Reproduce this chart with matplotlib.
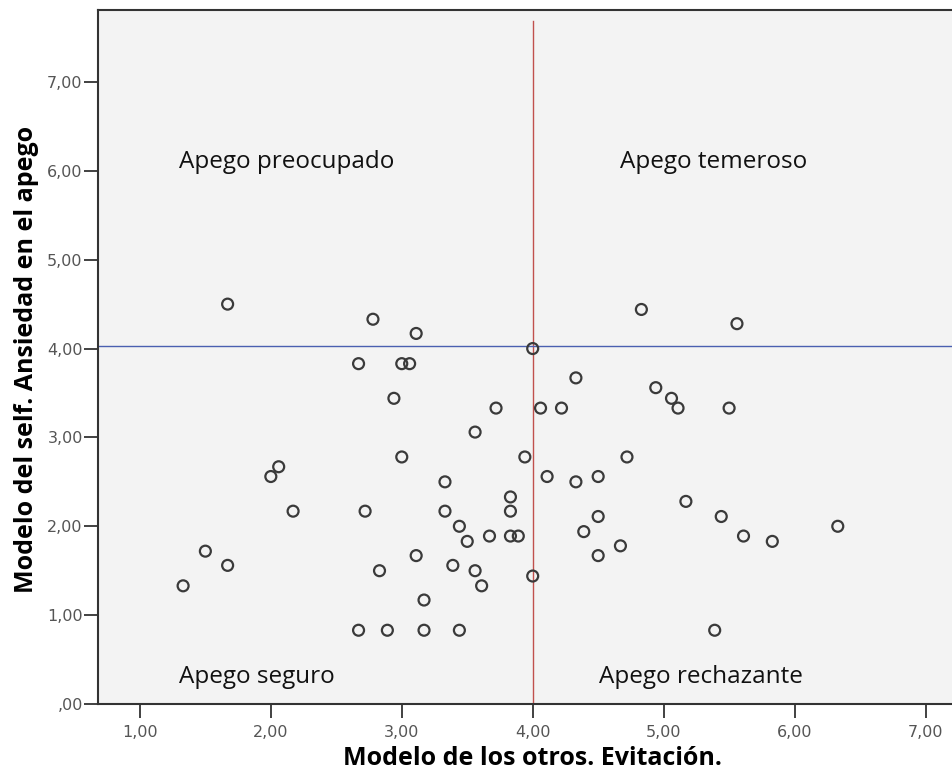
import matplotlib
matplotlib.use("Agg")
from matplotlib import pyplot as plt

# puntos (evitacion, ansiedad)
evitacion = [1.67, 2.78, 3.11, 2.67, 3.00, 3.06, 4.00, 4.83, 5.56, 4.33,
             2.94, 4.94, 5.06, 5.11, 5.50, 3.72, 4.06, 4.22, 3.56, 3.00,
             3.94, 4.72, 2.06, 2.00, 4.11, 4.33, 4.50, 3.33, 2.17, 2.72,
             3.83, 3.33, 3.83, 3.44, 3.50, 3.67, 3.83, 3.89, 4.50, 4.39,
             4.67, 4.50, 5.17, 5.44, 5.61, 5.83, 6.33, 1.50, 1.67, 1.33,
             2.83, 3.11, 3.39, 3.56, 3.61, 4.00, 3.17, 2.67, 2.89, 3.17,
             3.44, 5.39]
ansiedad = [4.50, 4.33, 4.17, 3.83, 3.83, 3.83, 4.00, 4.44, 4.28, 3.67,
            3.44, 3.56, 3.44, 3.33, 3.33, 3.33, 3.33, 3.33, 3.06, 2.78,
            2.78, 2.78, 2.67, 2.56, 2.56, 2.50, 2.56, 2.50, 2.17, 2.17,
            2.33, 2.17, 2.17, 2.00, 1.83, 1.89, 1.89, 1.89, 2.11, 1.94,
            1.78, 1.67, 2.28, 2.11, 1.89, 1.83, 2.00, 1.72, 1.56, 1.33,
            1.50, 1.67, 1.56, 1.50, 1.33, 1.44, 1.17, 0.83, 0.83, 0.83,
            0.83, 0.83]

corte_x = 4.0
corte_y = 4.03

cuadrantes = ["Apego preocupado", "Apego temeroso", "Apego seguro", "Apego rechazante"]
pos_cuadrantes = [(1.30, 6.10), (4.67, 6.10), (1.30, 0.30), (4.51, 0.30)]

xticks = [1, 2, 3, 4, 5, 6, 7]
xlabels = ["1,00", "2,00", "3,00", "4,00", "5,00", "6,00", "7,00"]
yticks = [0, 1, 2, 3, 4, 5, 6, 7]
ylabels = [",00", "1,00", "2,00", "3,00", "4,00", "5,00", "6,00", "7,00"]

fig = plt.figure(figsize=(9.53, 7.71), dpi=100)
ax = fig.add_axes([98 / 953, 67 / 771, 1 - 98 / 953, 694 / 771])
ax.set_facecolor("#f3f3f3")

ax.set_xlim(0.68, 7.21)
ax.set_ylim(0, 7.81)

ax.plot([corte_x, corte_x], [0, 7.69], color="#c0504d", lw=1.0, zorder=2)
ax.axhline(corte_y, color="#4a5fb0", lw=1.0, zorder=2)

ax.scatter(evitacion, ansiedad, s=62, facecolors="none", edgecolors="#3a3a3a",
           linewidths=1.6, zorder=3)

for txt, (px, py) in zip(cuadrantes, pos_cuadrantes):
    ax.text(px, py, txt, fontsize=17.5, family="Open Sans", color="#111111",
            va="center", ha="left")

ax.set_xticks(xticks)
ax.set_xticklabels(xlabels, family="DejaVu Sans", fontsize=11.5, color="#555555")
ax.set_yticks(yticks)
ax.set_yticklabels(ylabels, family="DejaVu Sans", fontsize=11.5, color="#555555")
ax.tick_params(axis="both", direction="out", length=10, width=1.3, color="#333333")
ax.tick_params(axis="x", pad=5)
ax.tick_params(axis="y", pad=1)

for side in ["left", "bottom", "top"]:
    ax.spines[side].set_color("#333333")
    ax.spines[side].set_linewidth(1.5)
ax.spines["right"].set_visible(False)

ax.set_xlabel("Modelo de los otros. Evitación.", family="Open Sans", fontsize=18,
              fontweight="bold", va="baseline")
ax.xaxis.set_label_coords(0.508, -0.088)
ax.set_ylabel("Modelo del self. Ansiedad en el apego", family="Open Sans", fontsize=18,
              fontweight="bold", va="center")
ax.yaxis.set_label_coords(-0.084, 0.497)

fig.savefig("out.png", dpi=100)
